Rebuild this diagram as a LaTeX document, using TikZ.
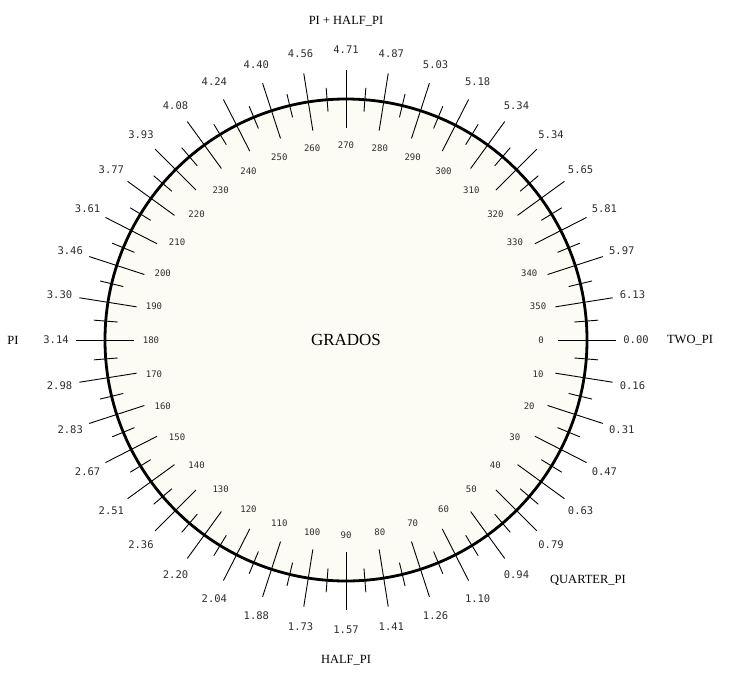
\documentclass[tikz,border=0pt]{standalone}
\usepackage{fontspec}
\setmainfont{Liberation Serif}
\setmonofont{DejaVu Sans Mono}
\usetikzlibrary{calc}
\definecolor{papel}{RGB}{252,252,245}
\definecolor{tinta}{RGB}{45,45,45}

\tikzset{
  rueda/.style={draw=black,fill=papel,line width=2.8pt},
  marca/.style={draw=black,line width=0.9pt},
  marquita/.style={draw=black,line width=0.9pt},
  grado/.style={color=tinta,font=\fontsize{9}{10}\selectfont\ttfamily},
  radian/.style={color=tinta,font=\fontsize{10.5}{12}\selectfont\ttfamily},
  nombre/.style={color=black,font=\fontsize{12.5}{14}\selectfont}
}

\begin{document}
\begin{tikzpicture}[x=1pt,y=-1pt]
    \useasboundingbox (0,0) rectangle (741,686);
    \coordinate (O) at (346,340);
    \draw [rueda] (O) circle [radius=241];
    % marcas largas cada pi/20, cortas en medio
    \foreach \k in {0,...,39} {
      \draw [marca] ($(O)+(\k*9:212)$) -- ($(O)+(\k*9:270)$);
      \draw [marquita] ($(O)+(\k*9+4.5:229)$) -- ($(O)+(\k*9+4.5:253)$);
    }
    \foreach \d in {0,10,...,350}
      \node [grado] (g\d) at ($(O)+(\d:195)$) {\d};
    \foreach \k/\v in {0/0.00,1/0.16,2/0.31,3/0.47,4/0.63,5/0.79,6/0.94,7/1.10,
      8/1.26,9/1.41,10/1.57,11/1.73,12/1.88,13/2.04,14/2.20,15/2.36,16/2.51,
      17/2.67,18/2.83,19/2.98,20/3.14,21/3.30,22/3.46,23/3.61,24/3.77,25/3.93,
      26/4.08,27/4.24,28/4.40,29/4.56,30/4.71,31/4.87,32/5.03,33/5.18,34/5.34,
      35/5.34,36/5.65,37/5.81,38/5.97,39/6.13}
      \node [radian] (r\k) at ($(O)+(\k*9:290)$) {\v};
    \node [nombre,font=\fontsize{17}{20}\selectfont] (grados) at (O) {GRADOS};
    \node [nombre] (twopi) at (690,340) {TWO\_PI};
    \node [nombre] (quarterpi) at (588,580) {QUARTER\_PI};
    \node [nombre] (halfpi) at (346,660) {HALF\_PI};
    \node [nombre] (pi) at (13,340) {PI};
    \node [nombre] (pihalfpi) at (346,21) {PI + HALF\_PI};
\end{tikzpicture}
\end{document}
